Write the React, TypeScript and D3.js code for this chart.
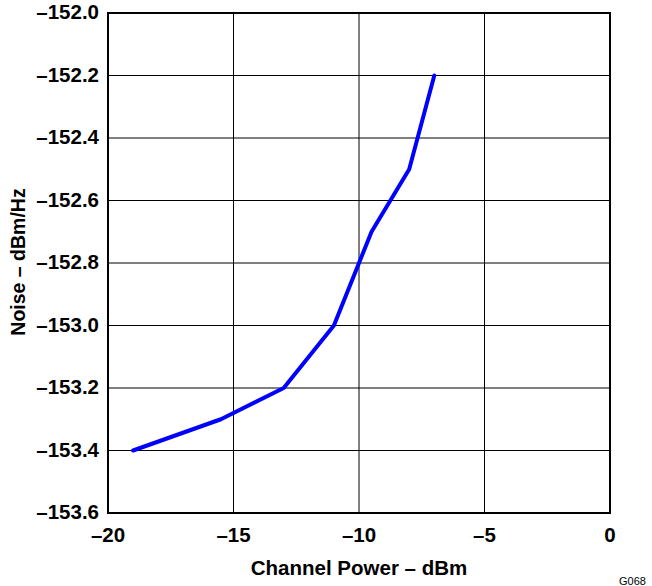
import React from "react";
import * as d3 from "d3";

const xVals = [-19, -15.5, -13, -11, -9.5, -8, -7];
const yVals = [-153.4, -153.3, -153.2, -153.0, -152.7, -152.5, -152.2];
const xTicks = [-20, -15, -10, -5, 0];
const yTicks = [-153.6, -153.4, -153.2, -153.0, -152.8, -152.6, -152.4, -152.2, -152.0];

const W = 652, H = 586;
const M = { left: 108, right: 610, top: 13, bottom: 513 };

const fmtY = (v: number) => (v < 0 ? "\u2013" : "") + Math.abs(v).toFixed(1);
const fmtX = (v: number) => (v < 0 ? "\u2013" : "") + Math.abs(v).toString();

export default function App() {
  const x = d3.scaleLinear().domain([-20, 0]).range([M.left, M.right]);
  const y = d3.scaleLinear().domain([-153.6, -152.0]).range([M.bottom, M.top]);
  const line = d3.line<number>().x((_, i) => x(xVals[i])).y((d) => y(d));
  const font = "'Liberation Sans', Arial, sans-serif";
  return (
    <svg width={W} height={H} style={{ position: "absolute", left: 0, top: 0 }} fontFamily={font}>
      <rect width={W} height={H} fill="#fff" />
      {xTicks.slice(1, -1).map((t) => (
        <line key={"gx" + t} x1={x(t)} x2={x(t)} y1={M.top} y2={M.bottom} stroke="#000" strokeWidth={1} />
      ))}
      {yTicks.slice(1, -1).map((t) => (
        <line key={"gy" + t} x1={M.left} x2={M.right} y1={y(t)} y2={y(t)} stroke="#000" strokeWidth={1} />
      ))}
      <rect x={M.left} y={M.top} width={M.right - M.left} height={M.bottom - M.top} fill="none" stroke="#000" strokeWidth={2} />
      <path d={line(yVals) || ""} fill="none" stroke="#0000ff" strokeWidth={4} strokeLinejoin="round" strokeLinecap="round" />
      {yTicks.map((t) => (
        <text key={"ty" + t} x={99} y={y(t) + 6} textAnchor="end" fontSize={20.5} fontWeight="bold">
          {fmtY(t)}
        </text>
      ))}
      {xTicks.map((t) => (
        <text key={"tx" + t} x={x(t)} y={542} textAnchor="middle" fontSize={20.5} fontWeight="bold">
          {fmtX(t)}
        </text>
      ))}
      <text x={359} y={575} textAnchor="middle" fontSize={20.5} fontWeight="bold">
        Channel Power – dBm
      </text>
      <text transform={`translate(25, 262) rotate(-90)`} textAnchor="middle" fontSize={19.5} fontWeight="bold">
        Noise – dBm/Hz
      </text>
      <text x={619} y={585} textAnchor="start" fontSize={11}>
        G068
      </text>
    </svg>
  );
}
